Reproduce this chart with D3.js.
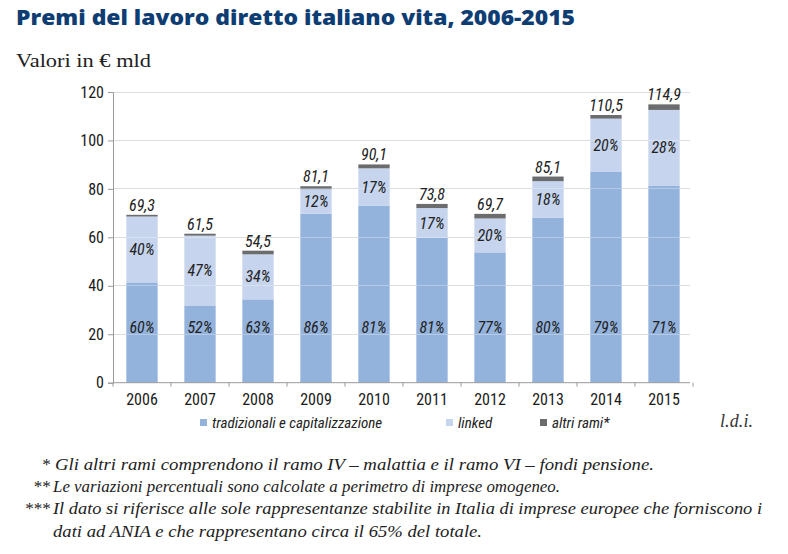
<!DOCTYPE html>
<html><head><meta charset="utf-8">
<script src="https://cdn.jsdelivr.net/npm/d3@7"></script>
<style>
body{margin:0;background:#fff;}
svg{display:block;}
</style></head>
<body>
<svg id="c" width="788" height="554"></svg>
<script>
const years = ["2006","2007","2008","2009","2010","2011","2012","2013","2014","2015"];
const tradizionali = [41.4, 31.9, 34.4, 69.7, 73.0, 59.8, 53.8, 68.1, 87.2, 81.4];
const linked = [27.2, 28.8, 18.6, 10.2, 15.5, 12.3, 14.0, 15.1, 21.8, 31.2];
const altri = [0.7, 0.8, 1.5, 1.2, 1.6, 1.7, 1.9, 1.9, 1.5, 2.3];
const totalLabels = ["69,3","61,5","54,5","81,1","90,1","73,8","69,7","85,1","110,5","114,9"];
const tradPct = ["60%","52%","63%","86%","81%","81%","77%","80%","79%","71%"];
const linkedPct = ["40%","47%","34%","12%","17%","17%","20%","18%","20%","28%"];
const yTicks = [0,20,40,60,80,100,120];
const seriesNames = ["tradizionali e capitalizzazione","linked","altri rami*"];
const colors = ["#93b2dc","#c6d4ed","#6b6c6e"];
const footnotes = [
  ["*","Gli altri rami comprendono il ramo IV \u2013 malattia e il ramo VI \u2013 fondi pensione."],
  ["**","Le variazioni percentuali sono calcolate a perimetro di imprese omogeneo."],
  ["***","Il dato si riferisce alle sole rappresentanze stabilite in Italia di imprese europee che forniscono i"],
  ["","dati ad ANIA e che rappresentano circa il 65% del totale."]
];

const svg = d3.select("#c");
const narrow = "'Liberation Sans Narrow','Roboto Condensed','Arial Narrow','Liberation Sans',sans-serif";
const serif = "'Liberation Serif','DejaVu Serif',serif";

// Title
svg.append("text").attr("x",16).attr("y",25)
  .attr("font-family","'Open Sans','DejaVu Sans',sans-serif").attr("font-weight",800)
  .attr("font-size",21).attr("fill","#0e3d74")
  .attr("textLength",559).attr("lengthAdjust","spacingAndGlyphs")
  .text("Premi del lavoro diretto italiano vita, 2006-2015");
svg.append("text").attr("x",16).attr("y",67)
  .attr("font-family",serif).attr("font-size",19).attr("fill","#222")
  .attr("textLength",135).attr("lengthAdjust","spacingAndGlyphs")
  .text("Valori in \u20ac mld");

const x = d3.scaleBand().domain(years).range([113,693]).paddingInner(0.46).paddingOuter(0.23);
const y = d3.scaleLinear().domain([0,120]).range([382.7,92]);

// gridlines
svg.append("g").selectAll("line").data(yTicks.filter(d=>d>0)).join("line")
  .attr("x1",113).attr("x2",690).attr("y1",d=>y(d)).attr("y2",d=>y(d))
  .attr("stroke","#cfcfcf").attr("stroke-width",1).attr("shape-rendering","crispEdges");

// stacked bars
const rows = years.map((yr,i)=>({year:yr, trad:tradizionali[i], linked:linked[i], altri:altri[i]}));
const stack = d3.stack().keys(["trad","linked","altri"])(rows);
svg.append("g").selectAll("g").data(stack).join("g")
  .attr("fill",(d,i)=>colors[i])
  .selectAll("rect").data(d=>d).join("rect")
  .attr("x",d=>x(d.data.year)).attr("width",x.bandwidth())
  .attr("y",d=>y(d[1])).attr("height",d=>y(d[0])-y(d[1]));

// faint gridlines over bars
svg.append("g").selectAll("line").data(yTicks.filter(d=>d>0)).join("line")
  .attr("x1",113).attr("x2",690).attr("y1",d=>y(d)).attr("y2",d=>y(d))
  .attr("stroke","#ffffff").attr("stroke-opacity",0.3).attr("stroke-width",1).attr("shape-rendering","crispEdges");

// Y axis
const yAxis = d3.axisLeft(y).tickValues(yTicks).tickSize(5).tickPadding(4);
const gy = svg.append("g").attr("transform","translate(113,0)").call(yAxis);
gy.select(".domain").attr("stroke","#9a9a9a");
gy.selectAll(".tick line").attr("stroke","#9a9a9a");
gy.selectAll("text").attr("font-family",narrow).attr("font-size",16).attr("fill","#1a1a1a");

// X axis
const xAxis = d3.axisBottom(x).tickSize(0).tickPadding(8);
const gx = svg.append("g").attr("transform","translate(0,382.7)").call(xAxis);
gx.select(".domain").attr("stroke","#9a9a9a").attr("d","M113,0H690");
gx.selectAll("text").attr("font-family",narrow).attr("font-size",16).attr("fill","#1a1a1a").attr("dy","0.9em");
// boundary ticks
const bounds = years.map(yr=>x(yr)-x.step()*x.paddingInner()/2).concat([x(years[years.length-1])+x.bandwidth()+x.step()*x.paddingInner()/2]);
gx.selectAll("line.b").data(bounds).join("line").attr("class","b")
  .attr("x1",d=>d).attr("x2",d=>d).attr("y1",0).attr("y2",4).attr("stroke","#9a9a9a");

// labels
const lab = svg.append("g").attr("font-family",narrow).attr("font-style","italic").attr("font-size",16).attr("fill","#222").attr("text-anchor","middle");
lab.selectAll("text.tot").data(rows).join("text").attr("class","tot")
  .attr("x",d=>x(d.year)+x.bandwidth()/2).attr("y",d=>y(d.trad+d.linked+d.altri)-4)
  .text((d,i)=>totalLabels[i]);
lab.selectAll("text.tp").data(rows).join("text").attr("class","tp")
  .attr("x",d=>x(d.year)+x.bandwidth()/2).attr("y",y(23)).attr("dy","0.35em")
  .text((d,i)=>tradPct[i]);
lab.selectAll("text.lp").data(rows).join("text").attr("class","lp")
  .attr("x",d=>x(d.year)+x.bandwidth()/2).attr("y",d=>y(d.trad+d.linked/2)).attr("dy","0.35em")
  .text((d,i)=>linkedPct[i]);

// legend
const legX = [200,446,540];
const leg = svg.append("g");
seriesNames.forEach((n,i)=>{
  leg.append("rect").attr("x",legX[i]).attr("y",419).attr("width",7).attr("height",7).attr("fill",colors[i]);
  leg.append("text").attr("x",legX[i]+12).attr("y",427.5)
    .attr("font-family",narrow).attr("font-style","italic").attr("font-size",15).attr("fill","#222").text(n);
});
svg.append("text").attr("x",720).attr("y",427).attr("font-family",serif).attr("font-style","italic")
  .attr("font-size",18).attr("fill","#333").attr("textLength",33).attr("lengthAdjust","spacing").text("l.d.i.");

// footnotes
const fn = svg.append("g").attr("font-family",serif).attr("font-style","italic").attr("font-size",17).attr("fill","#222");
const fnEnds = [654,560,762,482];
footnotes.forEach((f,i)=>{
  const yy = 470 + i*22.2;
  if(f[0]) fn.append("text").attr("x",50).attr("y",yy).attr("text-anchor","end").text(f[0]);
  fn.append("text").attr("x",i===0?55:53).attr("y",yy)
    .attr("textLength",fnEnds[i]-(i===0?55:53)).attr("lengthAdjust","spacingAndGlyphs").text(f[1]);
});
</script>
</body></html>
